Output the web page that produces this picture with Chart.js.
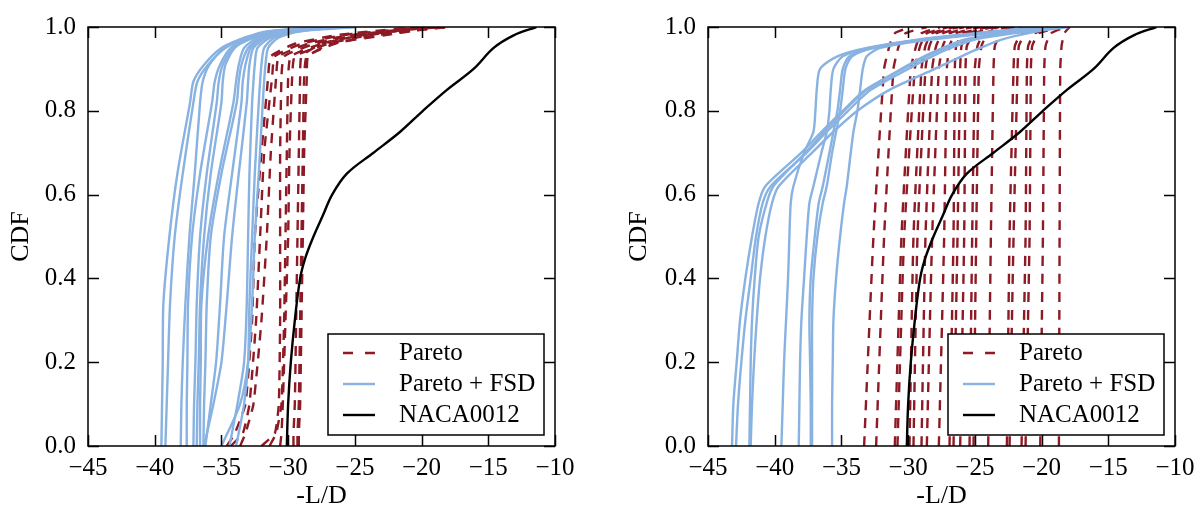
<!DOCTYPE html>
<html>
<head>
<meta charset="utf-8">
<script src="https://cdn.jsdelivr.net/npm/chart.js@4.4.1/dist/chart.umd.min.js"></script>
<style>
  html, body { margin: 0; padding: 0; background: #fff; }
  #wrap { position: relative; width: 1204px; height: 514px; }
  canvas { position: absolute; top: 0; }
</style>
</head>
<body>
<div id="wrap">
  <canvas id="left" width="602" height="514" style="left:0"></canvas>
  <canvas id="right" width="602" height="514" style="left:602px"></canvas>
</div>
<script>
// axis ticks
var xTickValues = [-45, -40, -35, -30, -25, -20, -15, -10];
var yTickValues = [0, 0.2, 0.4, 0.6, 0.8, 1.0];

var seriesNames = ["Pareto", "Pareto + FSD", "NACA0012"];
var seriesColors = ["#8e1a25", "#88b2e2", "#000000"];

// NACA0012 baseline, same in both panels (x = -L/D at each CDF level)
var nacaLevels = [0, 0.1, 0.2, 0.3, 0.4, 0.45, 0.5, 0.55, 0.6, 0.65, 0.7, 0.75, 0.8, 0.85, 0.9, 0.95, 0.98, 1.0];
var nacaX = [-30.1, -30.0, -29.8, -29.5, -29.1, -28.7, -28.1, -27.4, -26.7, -25.6, -23.6, -21.6, -19.9, -18.1, -16.1, -14.6, -13.1, -11.4];

// left panel, Pareto (red dashed)
var leftParetoLevels = [0, 0.03, 0.1, 0.3, 0.5, 0.7, 0.88, 0.93, 0.96, 0.98, 0.995, 1.0];
var leftPareto = [
	[-34.6, -34.0, -33.2, -32.7, -32.5, -32.0, -31.5, -31.3, -29.5, -26.5, -22.0, -19.5],
	[-34.3, -33.4, -32.9, -32.4, -32.1, -31.8, -31.2, -31.0, -29.0, -26.0, -21.5, -18.8],
	[-33.6, -33.2, -32.6, -32.0, -31.6, -31.3, -30.9, -30.7, -28.5, -25.5, -21.0, -19.2],
	[-32.0, -31.0, -30.7, -30.6, -30.6, -30.6, -30.5, -30.3, -28.0, -25.0, -20.5, -18.4],
	[-31.4, -30.9, -30.5, -30.3, -30.2, -30.1, -30.0, -29.8, -27.5, -24.5, -20.0, -18.0],
	[-30.6, -30.5, -30.4, -30.2, -30.0, -29.9, -29.7, -29.5, -27.0, -24.0, -21.0, -19.0],
	[-29.6, -29.6, -29.5, -29.4, -29.3, -29.2, -29.1, -29.0, -27.5, -24.5, -20.8, -18.6],
	[-29.3, -29.3, -29.2, -29.1, -29.0, -28.9, -28.8, -28.6, -26.5, -23.5, -19.5, -18.0],
	[-29.2, -29.2, -29.1, -29.0, -28.9, -28.8, -28.6, -28.5, -26.8, -22.8, -19.8, -18.2]
];

// left panel, Pareto + FSD (blue)
var leftFsdLevels = [0, 0.1, 0.2, 0.34, 0.5, 0.65, 0.82, 0.87, 0.91, 0.95, 0.975, 0.99, 1.0];
var leftFsd = [
	[-39.5, -39.45, -39.4, -39.35, -38.9, -38.3, -37.35, -37.1, -36.3, -35.0, -33.2, -31.5, -27.0],
	[-39.2, -39.1, -39.0, -38.85, -38.5, -37.9, -37.1, -36.8, -36.0, -34.7, -33.0, -31.2, -26.5],
	[-38.05, -38.0, -37.9, -37.7, -37.4, -37.0, -36.6, -36.4, -35.9, -34.8, -33.2, -31.0, -26.0],
	[-37.6, -37.6, -37.55, -37.5, -37.2, -36.6, -35.7, -35.5, -35.1, -34.3, -32.8, -30.8, -27.5],
	[-37.1, -37.05, -36.95, -36.85, -36.6, -36.1, -35.35, -35.2, -34.9, -34.1, -32.5, -30.5, -26.0],
	[-36.85, -36.8, -36.7, -36.6, -36.3, -35.8, -35.0, -34.9, -34.7, -34.0, -32.6, -30.6, -25.5],
	[-36.6, -36.6, -36.55, -36.5, -36.0, -35.2, -34.1, -33.9, -33.7, -33.3, -32.2, -30.2, -27.0],
	[-36.35, -36.3, -36.2, -36.1, -35.8, -35.0, -33.85, -33.7, -33.5, -33.0, -32.0, -30.0, -25.0],
	[-36.2, -35.8, -35.4, -35.1, -34.8, -34.2, -33.5, -33.4, -33.2, -32.8, -31.8, -29.8, -26.0],
	[-36.3, -35.6, -35.0, -34.6, -34.2, -33.7, -33.1, -33.0, -32.9, -32.6, -31.6, -29.5, -27.0],
	[-34.4, -33.8, -33.3, -33.1, -33.0, -32.9, -32.7, -32.6, -32.5, -32.3, -31.3, -29.4, -25.5],
	[-33.9, -33.3, -33.0, -32.9, -32.7, -32.5, -32.2, -32.1, -32.0, -31.8, -31.0, -29.2, -26.5],
	[-35.0, -33.6, -33.0, -32.7, -32.5, -32.2, -31.9, -31.8, -31.7, -31.5, -30.7, -29.0, -25.0]
];

// right panel, Pareto (red dashed)
var rightParetoLevels = [0, 0.5, 0.9, 0.955, 0.985, 1.0];
var rightPareto = [
	[-33.3, -32.6, -31.8, -31.4, -31.0, -29.8],
	[-32.4, -31.8, -31.1, -30.7, -30.2, -28.6],
	[-31.0, -30.5, -29.8, -29.4, -29.0, -27.6],
	[-30.8, -30.3, -29.5, -29.1, -28.6, -27.0],
	[-29.9, -29.6, -29.0, -28.7, -28.2, -26.6],
	[-29.6, -29.3, -28.7, -28.4, -27.9, -26.2],
	[-29.0, -28.7, -28.2, -27.9, -27.4, -25.8],
	[-28.6, -28.2, -27.7, -27.4, -26.9, -25.2],
	[-27.7, -27.3, -27.1, -26.9, -26.4, -24.6],
	[-26.9, -26.6, -26.5, -26.4, -25.9, -24.0],
	[-26.6, -26.3, -26.1, -26.0, -25.5, -23.6],
	[-26.1, -25.8, -25.7, -25.6, -25.0, -23.2],
	[-25.4, -25.2, -25.0, -24.8, -24.3, -22.6],
	[-25.1, -24.9, -24.7, -24.5, -24.0, -22.0],
	[-24.0, -23.8, -23.6, -23.5, -23.0, -21.3],
	[-22.6, -22.4, -22.1, -22.0, -21.5, -20.4],
	[-22.4, -22.1, -21.8, -21.7, -21.2, -19.8],
	[-21.5, -21.2, -21.1, -21.0, -20.5, -19.0],
	[-21.2, -20.9, -20.8, -20.7, -20.2, -18.6],
	[-20.1, -19.9, -19.8, -19.7, -19.3, -18.2],
	[-18.7, -18.65, -18.6, -18.5, -18.3, -17.9]
];

// right panel, Pareto + FSD (blue)
var rightFsdLevels = [0, 0.1, 0.2, 0.3, 0.4, 0.5, 0.58, 0.62, 0.7, 0.75, 0.8, 0.85, 0.9, 0.93, 0.95, 0.97, 0.99, 1.0];
var rightFsd = [
	[-43.2, -43.1, -42.85, -42.6, -42.2, -41.7, -41.2, -40.7, -38.0, -36.5, -34.9, -33.2, -30.4, -28.6, -27.2, -25.5, -21.5, -18.5],
	[-42.9, -42.75, -42.5, -42.2, -41.8, -41.4, -40.9, -40.3, -37.6, -36.1, -34.5, -32.8, -30.0, -28.2, -26.8, -25.0, -21.0, -19.0],
	[-41.9, -41.85, -41.8, -41.7, -41.5, -41.2, -40.6, -40.1, -37.7, -36.3, -34.8, -33.1, -30.5, -28.8, -27.4, -25.8, -22.0, -19.5],
	[-41.8, -41.7, -41.55, -41.35, -41.1, -40.7, -40.2, -39.7, -37.2, -35.6, -33.8, -31.4, -28.0, -26.0, -24.6, -23.0, -20.2, -18.0],
	[-39.5, -39.4, -39.3, -39.15, -39.0, -38.9, -38.8, -38.6, -37.8, -37.1, -36.95, -36.85, -36.6, -35.3, -33.1, -29.3, -23.5, -20.5],
	[-38.2, -38.15, -38.1, -38.0, -37.8, -37.6, -37.4, -37.1, -36.5, -36.1, -35.9, -35.8, -35.6, -34.9, -32.9, -29.1, -23.2, -20.0],
	[-37.3, -37.3, -37.35, -37.4, -37.3, -37.0, -36.7, -36.4, -35.9, -35.6, -35.3, -35.1, -34.9, -34.4, -32.7, -28.9, -22.8, -19.8],
	[-37.2, -37.2, -37.2, -37.2, -37.1, -36.8, -36.4, -36.1, -35.7, -35.4, -35.1, -34.9, -34.7, -34.2, -32.5, -28.7, -22.6, -19.5],
	[-35.7, -35.7, -35.65, -35.6, -35.4, -35.1, -34.8, -34.6, -34.3, -34.1, -33.8, -33.6, -33.4, -33.1, -32.1, -28.3, -22.3, -19.2]
];

var fontFamily = "'Liberation Serif', 'DejaVu Serif', serif";
var tickLen = 11;
var dashPattern = [10, 8];

function lineSets(levels, curves, idx, dashed, order, tension) {
	return curves.map(function (xs) {
		return {
			label: seriesNames[idx],
			data: xs.map(function (x, j) { return {x: x, y: levels[j]}; }),
			borderColor: seriesColors[idx],
			borderWidth: 2.4,
			borderDash: dashed ? dashPattern : [],
			showLine: true,
			pointRadius: 0,
			tension: tension,
			order: order
		};
	});
}

function minusSign(v) {
	return v < 0 ? "\u2212" + Math.abs(v) : String(v);
}

// inward ticks on all four sides plus the frame, then the legend box
var framePlugin = {
	id: "frame",
	afterDatasetsDraw: function (chart) {
		var ctx = chart.ctx, a = chart.chartArea;
		var xs = chart.scales.x, ys = chart.scales.y;
		ctx.save();
		ctx.setLineDash([]);
		ctx.strokeStyle = "#000";
		ctx.lineWidth = 1.5;
		ctx.beginPath();
		xTickValues.forEach(function (v) {
			var px = Math.round(xs.getPixelForValue(v)) + 0.5;
			ctx.moveTo(px, a.bottom); ctx.lineTo(px, a.bottom - tickLen);
			ctx.moveTo(px, a.top); ctx.lineTo(px, a.top + tickLen);
		});
		yTickValues.forEach(function (v) {
			var py = Math.round(ys.getPixelForValue(v)) + 0.5;
			ctx.moveTo(a.left, py); ctx.lineTo(a.left + tickLen, py);
			ctx.moveTo(a.right, py); ctx.lineTo(a.right - tickLen, py);
		});
		ctx.stroke();
		ctx.strokeRect(a.left, a.top, a.right - a.left, a.bottom - a.top);

		// legend
		var w = 216, h = 101;
		var bx = a.right - 11 - w, by = a.bottom - 11 - h;
		ctx.fillStyle = "#fff";
		ctx.fillRect(bx, by, w, h);
		ctx.strokeRect(bx, by, w, h);
		ctx.font = "25px " + fontFamily;
		ctx.textBaseline = "middle";
		seriesNames.forEach(function (name, i) {
			var cy = by + 19 + i * 31;
			ctx.beginPath();
			ctx.strokeStyle = seriesColors[i];
			ctx.lineWidth = 2.4;
			ctx.setLineDash(i === 0 ? [10, 12] : []);
			ctx.moveTo(bx + 15, cy);
			ctx.lineTo(bx + 47, cy);
			ctx.stroke();
			ctx.fillStyle = "#000";
			ctx.fillText(name, bx + 71, cy);
		});
		ctx.restore();
	}
};

function makeChart(id, pareto, paretoLevels, fsd, fsdLevels, yAxisWidth, padRight, titleOffset) {
	var tickFont = {family: fontFamily, size: 25};
	var titleFont = {family: fontFamily, size: 26};
	var datasets = []
		.concat(lineSets(paretoLevels, pareto, 0, true, 3, 0.15))
		.concat(lineSets(fsdLevels, fsd, 1, false, 2, 0.25))
		.concat(lineSets(nacaLevels, [nacaX], 2, false, 1, 0.35));

	return new Chart(document.getElementById(id), {
		type: "scatter",
		data: {datasets: datasets},
		plugins: [framePlugin],
		options: {
			responsive: false,
			animation: false,
			devicePixelRatio: 1,
			events: [],
			layout: {padding: {left: 0, right: padRight, top: 19, bottom: 0}},
			plugins: {legend: {display: false}, tooltip: {enabled: false}},
			scales: {
				x: {
					type: "linear", min: -45, max: -10,
					afterBuildTicks: function (s) { s.ticks = xTickValues.map(function (v) { return {value: v}; }); },
					afterFit: function (s) { s.height = 68; },
					grid: {display: false, drawTicks: false},
					border: {display: false},
					ticks: {color: "#000", font: tickFont, padding: 7, maxRotation: 0, autoSkip: false, callback: minusSign},
					title: {display: true, text: "-L/D", color: "#000", font: titleFont, padding: {top: 0, bottom: 2}}
				},
				y: {
					type: "linear", min: 0, max: 1,
					afterBuildTicks: function (s) { s.ticks = yTickValues.map(function (v) { return {value: v}; }); },
					afterFit: function (s) { s.width = yAxisWidth; },
					grid: {display: false, drawTicks: false},
					border: {display: false},
					ticks: {color: "#000", font: tickFont, padding: 12, autoSkip: false, callback: function (v) { return v.toFixed(1); }},
					title: {display: true, text: "CDF", color: "#000", font: titleFont, padding: {top: titleOffset, bottom: 0}}
				}
			}
		}
	});
}

makeChart("left", leftPareto, leftParetoLevels, leftFsd, leftFsdLevels, 88, 47, 6);
makeChart("right", rightPareto, rightParetoLevels, rightFsd, rightFsdLevels, 106, 29, 22);
</script>
</body>
</html>
